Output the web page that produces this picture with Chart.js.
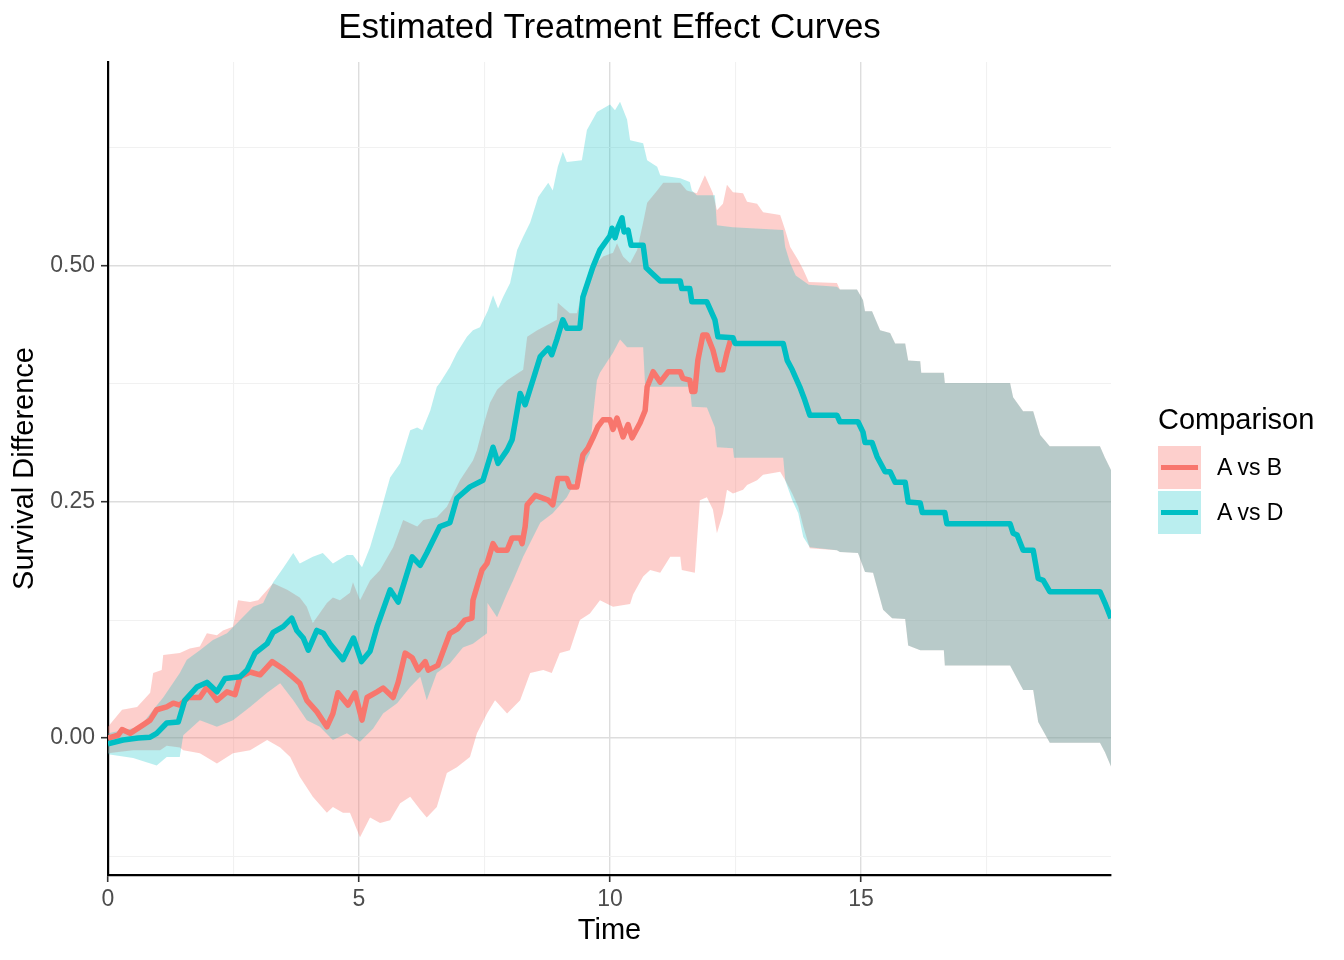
<!DOCTYPE html>
<html>
<head>
<meta charset="utf-8">
<script src="https://cdn.jsdelivr.net/npm/chart.js@4.4.0/dist/chart.umd.min.js"></script>
<style>
html,body{margin:0;padding:0;background:#fff;}
#wrap{position:relative;width:1344px;height:960px;overflow:hidden;}
#c{position:absolute;left:0;top:0;}
.leg{position:absolute;font-family:"Liberation Sans",Arial,Helvetica,sans-serif;color:#000;white-space:nowrap;}
.key{position:absolute;width:43px;height:43px;}
.key i{position:absolute;left:3px;top:19px;width:37px;height:5px;}
</style>
</head>
<body>
<div id="wrap">
<canvas id="c" width="1344" height="960"></canvas>
<div class="leg" style="left:1158px;top:401px;font-size:29px;line-height:36px;">Comparison</div>
<div class="key" style="left:1158px;top:446px;background:rgba(248,118,109,0.35);"><i style="background:#F8766D;"></i></div>
<div class="leg" style="left:1217px;top:452px;font-size:23px;line-height:30px;">A vs B</div>
<div class="key" style="left:1158px;top:491px;background:rgba(0,191,196,0.27);"><i style="background:#00BFC4;"></i></div>
<div class="leg" style="left:1217px;top:497px;font-size:23px;line-height:30px;">A vs D</div>
</div>
<script>
// ---------- data ----------
const seriesNames = ['A vs B', 'A vs D'];

// A vs B estimate (visible part; afterwards it runs under the A vs D line)
const abTime = [0,0.2,0.28,0.44,0.7,0.84,0.97,1.17,1.3,1.43,1.6,1.83,1.97,2.17,2.37,2.53,2.63,2.83,3.03,3.27,3.47,3.63,3.82,3.96,4.16,4.36,4.48,4.58,4.78,4.92,5.06,5.16,5.36,5.48,5.68,5.78,5.92,6.06,6.18,6.32,6.38,6.57,6.81,6.97,7.11,7.25,7.27,7.45,7.55,7.67,7.75,7.95,8.05,8.21,8.25,8.31,8.35,8.51,8.77,8.86,8.96,9.14,9.2,9.34,9.46,9.56,9.66,9.76,9.86,10.0,10.06,10.14,10.26,10.36,10.44,10.6,10.7,10.74,10.86,11.0,11.16,11.4,11.45,11.59,11.63,11.69,11.75,11.85,11.93,12.05,12.15,12.25,12.33,12.4];
const abEst = [0,0.003,0.009,0.005,0.014,0.019,0.03,0.033,0.037,0.035,0.043,0.043,0.054,0.04,0.049,0.046,0.065,0.07,0.067,0.081,0.074,0.067,0.058,0.04,0.028,0.012,0.026,0.048,0.035,0.048,0.019,0.043,0.049,0.053,0.043,0.059,0.09,0.085,0.072,0.081,0.072,0.077,0.111,0.116,0.125,0.127,0.146,0.178,0.185,0.206,0.199,0.199,0.212,0.212,0.206,0.224,0.247,0.257,0.252,0.247,0.275,0.275,0.266,0.266,0.3,0.307,0.318,0.33,0.337,0.337,0.327,0.339,0.319,0.332,0.318,0.334,0.347,0.372,0.388,0.377,0.388,0.388,0.381,0.379,0.367,0.367,0.4,0.427,0.427,0.411,0.39,0.39,0.408,0.421];

// A vs B upper band
const abUpperTime = [0,0.28,0.58,0.84,0.9,1.07,1.1,1.43,1.63,1.83,1.97,2.17,2.29,2.49,2.59,2.83,2.99,3.29,3.57,3.82,3.96,4.08,4.36,4.48,4.62,4.82,4.88,5.02,5.22,5.42,5.68,5.88,6.16,6.28,6.55,6.75,7.01,7.27,7.35,7.47,7.61,7.75,7.95,8.27,8.35,8.55,8.94,8.96,9.2,9.34,9.46,9.66,9.86,10.06,10.14,10.26,10.4,10.54,10.66,10.74,10.94,11.06,11.4,11.53,11.73,11.89,12.05,12.13,12.25,12.33,12.45,12.65,12.73,12.93,13.05,13.39,13.49,13.59,13.75,13.85,13.96,14.52,14.58,14.92,15.04,15.08,15.22,15.38,15.58,15.68,15.88,15.94,16.18,16.2,16.65,16.67,17.97,18.03,18.23,18.43,18.57,18.76,19.76,19.86,19.98];
const abUpper = [0.012,0.03,0.033,0.048,0.069,0.072,0.088,0.09,0.095,0.097,0.111,0.109,0.114,0.118,0.146,0.144,0.146,0.164,0.157,0.149,0.139,0.122,0.143,0.149,0.146,0.154,0.165,0.146,0.167,0.178,0.202,0.231,0.224,0.231,0.234,0.245,0.273,0.294,0.305,0.33,0.355,0.369,0.379,0.39,0.425,0.432,0.443,0.461,0.45,0.45,0.475,0.499,0.51,0.514,0.524,0.51,0.503,0.517,0.546,0.567,0.58,0.588,0.588,0.58,0.577,0.596,0.577,0.559,0.566,0.586,0.578,0.577,0.568,0.566,0.557,0.554,0.538,0.52,0.506,0.496,0.483,0.482,0.475,0.475,0.464,0.452,0.452,0.432,0.429,0.418,0.418,0.4,0.399,0.387,0.387,0.376,0.376,0.361,0.346,0.346,0.321,0.309,0.309,0.297,0.284];

// A vs B lower band
const abLowerTime = [0,0.5,1.04,1.17,1.43,1.5,1.83,2.17,2.49,2.83,3.17,3.43,3.63,3.82,4.08,4.36,4.48,4.68,4.82,5.02,5.22,5.42,5.62,5.82,6.02,6.22,6.35,6.55,6.75,6.95,7.21,7.35,7.55,7.71,7.95,8.21,8.41,8.67,8.84,9.0,9.2,9.4,9.6,9.8,10.06,10.4,10.46,10.66,10.8,11.0,11.2,11.4,11.43,11.69,11.73,11.79,11.93,12.05,12.13,12.25,12.33,12.45,12.65,12.73,12.93,13.05,13.39,13.49,13.63,13.75,13.85,13.98,14.52,14.58,14.94,15.08,15.24,15.44,15.62,15.88,15.94,16.18,16.65,16.67,17.97,18.23,18.43,18.53,18.76,19.76,19.86,19.98];
const abLower = [-0.016,-0.013,-0.013,-0.008,-0.01,-0.013,-0.016,-0.027,-0.016,-0.013,-0.002,-0.01,-0.02,-0.041,-0.062,-0.079,-0.073,-0.079,-0.079,-0.105,-0.084,-0.09,-0.087,-0.069,-0.062,-0.076,-0.084,-0.073,-0.037,-0.031,-0.02,0.005,0.026,0.04,0.026,0.04,0.069,0.072,0.069,0.09,0.093,0.125,0.132,0.146,0.139,0.142,0.152,0.171,0.178,0.175,0.192,0.192,0.178,0.175,0.207,0.252,0.255,0.242,0.217,0.238,0.263,0.259,0.263,0.268,0.273,0.279,0.282,0.273,0.259,0.245,0.224,0.201,0.199,0.197,0.196,0.176,0.175,0.136,0.127,0.126,0.098,0.093,0.093,0.077,0.077,0.051,0.051,0.017,-0.005,-0.005,-0.015,-0.03];

// A vs D estimate
const adTime = [0,0.3,0.6,0.84,0.97,1.17,1.4,1.53,1.77,1.97,2.17,2.33,2.63,2.77,2.93,3.17,3.29,3.49,3.66,3.76,3.89,3.99,4.16,4.29,4.42,4.68,4.89,5.05,5.22,5.36,5.62,5.78,6.06,6.22,6.35,6.61,6.81,6.95,7.21,7.47,7.67,7.77,7.95,8.05,8.21,8.31,8.47,8.61,8.77,8.84,8.94,9.06,9.14,9.4,9.46,9.66,9.8,10.0,10.04,10.1,10.16,10.24,10.28,10.36,10.42,10.66,10.72,10.84,11.0,11.4,11.43,11.59,11.63,11.93,12.09,12.15,12.45,12.49,13.45,13.53,13.63,13.78,13.88,13.98,14.52,14.58,14.94,15.04,15.08,15.22,15.32,15.48,15.58,15.68,15.88,15.94,16.18,16.22,16.67,16.71,17.97,18.03,18.11,18.23,18.43,18.53,18.63,18.76,19.76,19.86,19.98];
const adEst = [-0.006,-0.002,0.0,0.001,0.005,0.016,0.017,0.04,0.054,0.059,0.049,0.063,0.065,0.072,0.09,0.1,0.112,0.118,0.127,0.114,0.106,0.093,0.114,0.111,0.1,0.083,0.106,0.081,0.092,0.118,0.157,0.144,0.192,0.183,0.196,0.224,0.228,0.254,0.266,0.273,0.308,0.291,0.305,0.316,0.365,0.353,0.38,0.404,0.413,0.406,0.422,0.443,0.434,0.434,0.467,0.499,0.517,0.532,0.54,0.53,0.541,0.551,0.536,0.538,0.522,0.522,0.498,0.492,0.484,0.484,0.476,0.476,0.462,0.462,0.443,0.425,0.424,0.418,0.418,0.4,0.39,0.372,0.358,0.342,0.342,0.335,0.335,0.324,0.313,0.313,0.298,0.282,0.282,0.271,0.271,0.25,0.249,0.239,0.239,0.227,0.227,0.217,0.215,0.199,0.199,0.169,0.167,0.155,0.155,0.143,0.127];

// A vs D upper band
const adUpperTime = [0,0.64,0.9,1.1,1.43,1.57,1.83,2.09,2.37,2.63,2.89,3.09,3.29,3.49,3.69,3.82,4.08,4.28,4.48,4.76,4.88,5.06,5.22,5.42,5.62,5.82,6.02,6.16,6.26,6.42,6.55,6.61,6.81,6.95,7.15,7.27,7.41,7.57,7.67,7.77,7.87,8.01,8.15,8.27,8.41,8.57,8.77,8.86,8.96,9.06,9.14,9.44,9.54,9.74,10.0,10.1,10.2,10.34,10.4,10.66,10.74,10.94,11.0,11.4,11.59,11.63,11.73,12.09,12.13,12.45,13.45,13.49,13.59,13.7,13.96,14.52,14.58,14.92,15.04,15.08,15.22,15.38,15.58,15.68,15.88,15.94,16.18,16.2,16.65,16.67,17.97,18.03,18.23,18.43,18.57,18.76,19.76,19.86,19.98];
const adUpper = [0.005,0.012,0.03,0.043,0.069,0.083,0.093,0.104,0.111,0.125,0.139,0.143,0.165,0.18,0.196,0.185,0.192,0.196,0.185,0.194,0.194,0.181,0.202,0.238,0.276,0.291,0.326,0.329,0.326,0.347,0.372,0.376,0.393,0.408,0.425,0.432,0.435,0.453,0.469,0.455,0.467,0.482,0.517,0.531,0.546,0.573,0.588,0.58,0.605,0.621,0.61,0.612,0.644,0.663,0.671,0.665,0.674,0.655,0.633,0.63,0.612,0.605,0.596,0.593,0.589,0.58,0.575,0.575,0.543,0.541,0.538,0.52,0.503,0.49,0.48,0.478,0.475,0.475,0.464,0.452,0.452,0.432,0.429,0.418,0.418,0.4,0.399,0.387,0.387,0.376,0.376,0.361,0.346,0.346,0.321,0.309,0.309,0.297,0.284];

// A vs D lower band
const adLowerTime = [0,0.5,0.97,1.17,1.43,1.5,1.83,2.17,2.49,2.83,3.17,3.43,3.69,3.96,4.22,4.48,4.76,5.02,5.28,5.48,5.76,6.02,6.22,6.35,6.55,6.81,7.07,7.27,7.55,7.56,7.75,7.95,8.07,8.27,8.61,8.86,9.14,9.4,9.6,9.66,9.74,9.8,10.06,10.2,10.34,10.66,10.7,11.59,11.63,11.93,12.09,12.13,12.45,12.47,13.45,13.49,13.63,13.75,13.85,13.98,14.52,14.58,14.94,15.08,15.24,15.44,15.62,15.88,15.94,16.18,16.65,16.67,17.97,18.23,18.43,18.53,18.76,19.76,19.86,19.98];
const adLower = [-0.017,-0.021,-0.029,-0.02,-0.02,0.003,0.019,0.012,0.019,0.033,0.048,0.058,0.04,0.019,0.012,-0.002,0.005,-0.004,0.01,0.026,0.037,0.054,0.065,0.04,0.069,0.079,0.096,0.1,0.111,0.143,0.128,0.153,0.167,0.192,0.228,0.238,0.255,0.281,0.302,0.34,0.379,0.387,0.408,0.422,0.414,0.414,0.372,0.372,0.351,0.35,0.329,0.308,0.307,0.297,0.297,0.273,0.252,0.238,0.213,0.202,0.199,0.197,0.196,0.176,0.175,0.136,0.127,0.126,0.098,0.093,0.093,0.077,0.077,0.051,0.051,0.017,-0.005,-0.005,-0.015,-0.03];

// axis ticks
const xTicks = [0, 2.5, 5, 7.5, 10, 12.5, 15, 17.5];
const xTickLabels = ['0', '', '5', '', '10', '', '15', ''];
const yTicks = [-0.125, 0, 0.125, 0.25, 0.375, 0.5, 0.625];
const yTickLabels = ['', '0.00', '', '0.25', '', '0.50', ''];

// ---------- chart ----------
const FONT = '"Liberation Sans", Arial, Helvetica, sans-serif';
const RED = '#F8766D', TEAL = '#00BFC4';
const RED_FILL = 'rgba(248,118,109,0.35)', TEAL_FILL = 'rgba(0,191,196,0.27)';
const pts = (t, y) => t.map((v, i) => ({x: v, y: y[i]}));
const band = {borderWidth: 0, borderColor: 'rgba(0,0,0,0)', pointRadius: 0, tension: 0};
const line = {borderWidth: 5.5, pointRadius: 0, tension: 0, fill: false, borderJoinStyle: 'round', borderCapStyle: 'butt'};

function gridFor(labels) {
  return {
    color: c => labels[c.index] ? '#DDDDDD' : '#F1F1F1',
    lineWidth: c => labels[c.index] ? 1.4 : 1.1,
    tickColor: c => labels[c.index] ? '#333333' : 'rgba(0,0,0,0)',
    tickLength: 7,
    tickWidth: 1.6,
    drawTicks: true
  };
}

new Chart(document.getElementById('c'), {
  type: 'line',
  data: {
    datasets: [
      Object.assign({label: seriesNames[0] + ' upper', data: pts(abUpperTime, abUpper), fill: '+1', backgroundColor: RED_FILL, order: 4}, band),
      Object.assign({label: seriesNames[0] + ' lower', data: pts(abLowerTime, abLower), fill: false, order: 4}, band),
      Object.assign({label: seriesNames[1] + ' upper', data: pts(adUpperTime, adUpper), fill: '+1', backgroundColor: TEAL_FILL, order: 3}, band),
      Object.assign({label: seriesNames[1] + ' lower', data: pts(adLowerTime, adLower), fill: false, order: 3}, band),
      Object.assign({label: seriesNames[0], data: pts(abTime, abEst), borderColor: RED, order: 2}, line),
      Object.assign({label: seriesNames[1], data: pts(adTime, adEst), borderColor: TEAL, order: 1}, line)
    ]
  },
  options: {
    responsive: false,
    devicePixelRatio: 1,
    animation: false,
    events: [],
    layout: {padding: {left: 0, right: 233, top: 0, bottom: 0}},
    plugins: {
      legend: {display: false},
      tooltip: {enabled: false},
      title: {
        display: true,
        text: 'Estimated Treatment Effect Curves',
        color: '#000',
        font: {family: FONT, size: 35, weight: 'normal'},
        padding: {top: 7, bottom: 13},
        fullSize: false
      }
    },
    scales: {
      x: {
        type: 'linear',
        min: 0,
        max: 19.98,
        afterBuildTicks: s => { s.ticks = xTicks.map(v => ({value: v})); },
        afterFit: s => { s.height = 85; },
        ticks: {
          callback: (v, i) => xTickLabels[i],
          color: '#4D4D4D',
          font: {family: FONT, size: 23},
          padding: 4,
          autoSkip: false,
          maxRotation: 0
        },
        grid: gridFor(xTickLabels),
        border: {display: true, color: '#000', width: 2.2},
        title: {display: true, text: 'Time', color: '#000', font: {family: FONT, size: 29}, padding: {top: 0, bottom: 12}}
      },
      y: {
        type: 'linear',
        min: -0.145,
        max: 0.716,
        afterBuildTicks: s => { s.ticks = yTicks.map(v => ({value: v})); },
        afterFit: s => { s.width = 108; },
        ticks: {
          callback: (v, i) => yTickLabels[i],
          color: '#4D4D4D',
          font: {family: FONT, size: 23},
          padding: 6,
          autoSkip: false
        },
        grid: gridFor(yTickLabels),
        border: {display: true, color: '#000', width: 2.2},
        title: {display: true, text: 'Survival Difference', color: '#000', font: {family: FONT, size: 29}, padding: {top: 7.6, bottom: 0}}
      }
    }
  }
});
</script>
</body>
</html>
